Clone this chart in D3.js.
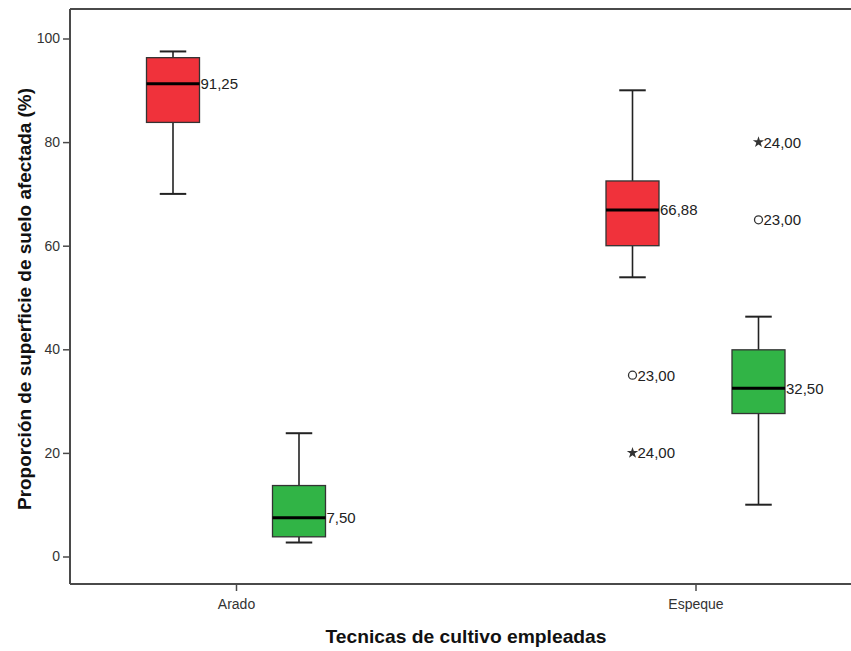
<!DOCTYPE html>
<html>
<head>
<meta charset="utf-8">
<script src="https://cdn.jsdelivr.net/npm/d3@7"></script>
<style>
  html, body { margin: 0; padding: 0; background: #fff; }
  svg { display: block; font-family: "Liberation Sans", Arial, sans-serif; }
</style>
</head>
<body>
<svg id="chart" width="851" height="651"></svg>
<script>
// Categories and box statistics (one entry per category, per group)
const categories = ["Arado", "Espeque"];
const groups = ["rojo", "verde"];
const groupColors = ["#f0323b", "#31b446"];

// [Arado, Espeque] for each group
const whiskerLow = { rojo: [70.0, 53.9], verde: [2.7, 10.0] };
const q1         = { rojo: [83.8, 60.0], verde: [3.8, 27.6] };
const median     = { rojo: [91.25, 66.88], verde: [7.5, 32.5] };
const q3         = { rojo: [96.3, 72.5], verde: [13.7, 39.9] };
const whiskerHigh= { rojo: [97.5, 90.0], verde: [23.8, 46.3] };

// Outlying cases: category, group, value, kind, case label
const outliers = [
  { cat: "Espeque", grp: "rojo",  value: 35.0, kind: "circle", label: "23,00" },
  { cat: "Espeque", grp: "rojo",  value: 20.0, kind: "star",   label: "24,00" },
  { cat: "Espeque", grp: "verde", value: 65.0, kind: "circle", label: "23,00" },
  { cat: "Espeque", grp: "verde", value: 80.0, kind: "star",   label: "24,00" }
];

const yTicks = [0, 20, 40, 60, 80, 100];
const xTitle = "Tecnicas de cultivo empleadas";
const yTitle = "Proporción de superficie de suelo afectada (%)";

const svg = d3.select("#chart");
const frame = { left: 70, right: 851, top: 9, bottom: 584 };

const y = d3.scaleLinear().domain([0, 100]).range([556.5, 38.5]);
const x = d3.scalePoint().domain(categories).range([236, 695.5]);
const sub = d3.scalePoint().domain(groups).range([-63, 63]);
const boxW = 53;
const fmt = v => d3.format(".2f")(v).replace(".", ",");
const fontFam = "'Liberation Sans', Arial, sans-serif";

// Frame lines (top edge + axes)
const axisColor = "#4a4a4a";
svg.append("line").attr("x1", frame.left).attr("x2", frame.right)
  .attr("y1", frame.top).attr("y2", frame.top)
  .attr("stroke", axisColor).attr("stroke-width", 2);

// Y axis
const yAxis = svg.append("g").attr("transform", `translate(${frame.left},0)`)
  .call(d3.axisLeft(y).tickValues(yTicks).tickSize(7).tickPadding(3));
yAxis.select(".domain").remove();
yAxis.append("line").attr("x1", 0).attr("x2", 0)
  .attr("y1", frame.top).attr("y2", frame.bottom)
  .attr("stroke", axisColor).attr("stroke-width", 2);
yAxis.selectAll(".tick line").attr("stroke", axisColor).attr("stroke-width", 1.5);
yAxis.selectAll(".tick text").attr("fill", "#333").style("font-size", "14px")
  .style("font-family", fontFam);

// X axis
const xAxis = svg.append("g").attr("transform", `translate(0,${frame.bottom})`)
  .call(d3.axisBottom(x).tickSize(7).tickPadding(8));
xAxis.select(".domain").remove();
xAxis.append("line").attr("x1", frame.left).attr("x2", frame.right)
  .attr("y1", 0).attr("y2", 0)
  .attr("stroke", axisColor).attr("stroke-width", 2);
xAxis.selectAll(".tick line").attr("stroke", axisColor).attr("stroke-width", 1.5);
xAxis.selectAll(".tick text").attr("fill", "#333").style("font-size", "14px")
  .style("font-family", fontFam);

// Axis titles
svg.append("text").attr("x", 466).attr("y", 643).attr("text-anchor", "middle")
  .style("font-size", "19px").style("font-weight", "bold").attr("fill", "#111")
  .attr("textLength", 281).attr("lengthAdjust", "spacingAndGlyphs")
  .text(xTitle);
svg.append("text").attr("transform", "translate(31,299) rotate(-90)")
  .attr("text-anchor", "middle")
  .style("font-size", "18px").style("font-weight", "bold").attr("fill", "#111")
  .attr("textLength", 422).attr("lengthAdjust", "spacingAndGlyphs")
  .text(yTitle);

// Boxes
const rows = [];
groups.forEach((g, gi) => categories.forEach((c, ci) => rows.push({
  cat: c, grp: g, color: groupColors[gi],
  lo: whiskerLow[g][ci], q1: q1[g][ci], med: median[g][ci],
  q3: q3[g][ci], hi: whiskerHigh[g][ci]
})));

const boxes = svg.append("g").selectAll("g").data(rows).join("g")
  .attr("transform", d => `translate(${x(d.cat) + sub(d.grp)},0)`);

boxes.append("line").attr("x1", 0).attr("x2", 0)
  .attr("y1", d => y(d.hi)).attr("y2", d => y(d.q3))
  .attr("stroke", "#222").attr("stroke-width", 1.6);
boxes.append("line").attr("x1", 0).attr("x2", 0)
  .attr("y1", d => y(d.q1)).attr("y2", d => y(d.lo))
  .attr("stroke", "#222").attr("stroke-width", 1.6);
boxes.append("line").attr("x1", -boxW / 4).attr("x2", boxW / 4)
  .attr("y1", d => y(d.hi)).attr("y2", d => y(d.hi))
  .attr("stroke", "#222").attr("stroke-width", 2);
boxes.append("line").attr("x1", -boxW / 4).attr("x2", boxW / 4)
  .attr("y1", d => y(d.lo)).attr("y2", d => y(d.lo))
  .attr("stroke", "#222").attr("stroke-width", 2);
boxes.append("rect").attr("x", -boxW / 2).attr("width", boxW)
  .attr("y", d => y(d.q3)).attr("height", d => y(d.q1) - y(d.q3))
  .attr("fill", d => d.color).attr("stroke", "#333").attr("stroke-width", 1.3);
boxes.append("line").attr("x1", -boxW / 2).attr("x2", boxW / 2)
  .attr("y1", d => y(d.med)).attr("y2", d => y(d.med))
  .attr("stroke", "#000").attr("stroke-width", 3);
boxes.append("text").attr("x", boxW / 2 + 1).attr("y", d => y(d.med))
  .attr("dy", "0.36em").attr("fill", "#222").style("font-size", "15px")
  .text(d => fmt(d.med));

// Outlier markers with case labels
const out = svg.append("g").selectAll("g").data(outliers).join("g")
  .attr("transform", d => `translate(${x(d.cat) + sub(d.grp)},${y(d.value)})`);
out.filter(d => d.kind === "circle").append("circle")
  .attr("r", 4).attr("fill", "none").attr("stroke", "#333").attr("stroke-width", 1.3);
out.filter(d => d.kind === "star").append("path")
  .attr("d", d3.symbol(d3.symbolStar, 40)).attr("fill", "#333");
out.append("text").attr("x", 5).attr("dy", "0.36em").attr("fill", "#222")
  .style("font-size", "15px").text(d => d.label);
</script>
</body>
</html>
